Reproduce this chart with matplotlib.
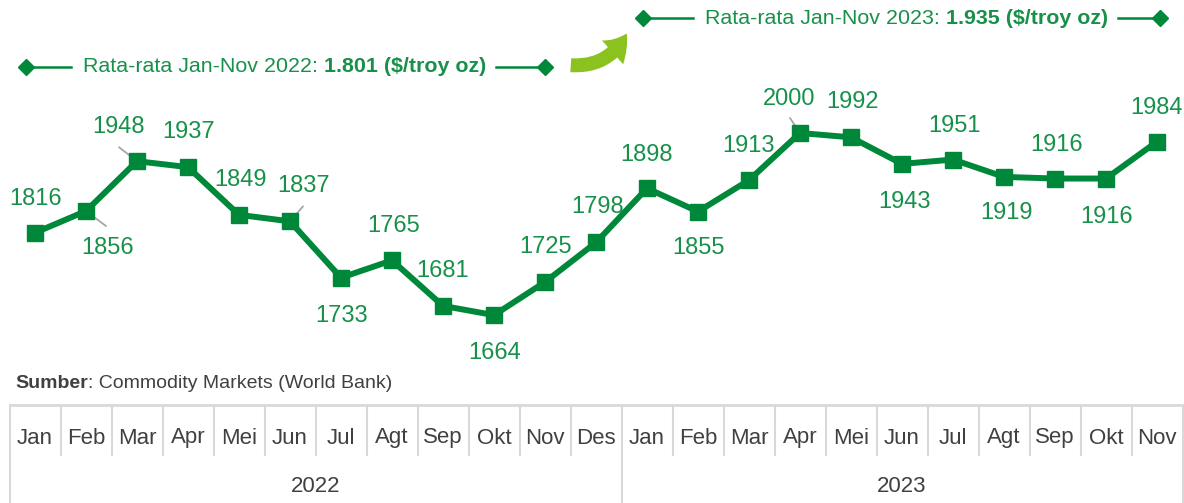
import matplotlib
matplotlib.use('Agg')
from matplotlib import pyplot as plt
from matplotlib import font_manager
from matplotlib.patches import FancyArrowPatch
import matplotlib.transforms as mtransforms

# Data
months = ['Jan', 'Feb', 'Mar', 'Apr', 'Mei', 'Jun', 'Jul', 'Agt', 'Sep', 'Okt', 'Nov', 'Des',
          'Jan', 'Feb', 'Mar', 'Apr', 'Mei', 'Jun', 'Jul', 'Agt', 'Sep', 'Okt', 'Nov']
years = ['2022', '2023']
year_counts = [12, 11]
prices = [1816, 1856, 1948, 1937, 1849, 1837, 1733, 1765, 1681, 1664, 1725, 1798,
          1898, 1855, 1913, 2000, 1992, 1943, 1951, 1919, 1916, 1916, 1984]
avg_2022 = '1.801'
avg_2023 = '1.935'
source = 'Commodity Markets (World Bank)'

# Label offsets (pixels) and leader lines
label_off = [(1, 34), (22, -37), (-18, 34), (1, 35), (2, 35), (14, 35), (1, -38), (2, 34),
             (0, 35), (1, -38), (1, 35), (2, 35), (0, 33), (0, -36), (0, 34), (-11, 34),
             (2, 35), (3, -38), (1, 34), (2, -36), (2, 34), (1, -38), (0, 34)]
leaders = {1: (20, -15), 2: (-18, 14), 5: (13, 15), 15: (-10, 15)}

names = {f.name for f in font_manager.fontManager.ttflist}
font = 'Liberation Sans Narrow' if 'Liberation Sans Narrow' in names else 'Liberation Sans'
plt.rcParams['font.family'] = [font, 'DejaVu Sans']

green = '#00883a'
text_green = '#17914a'
grey_text = '#404040'
grid_grey = '#d9d9d9'

W, H = 1184, 503
fig = plt.figure(figsize=(W / 100, H / 100), dpi=100)
ax = fig.add_axes([0, 0, 1, 1])
ax.set_xlim(-35 / 51, (W - 35) / 51)
ax.set_ylim(2000 - 370 / 0.542, 2000 + 133 / 0.542)
ax.axis('off')
renderer = fig.canvas.get_renderer()


def fy(py):
    return 1 - py / H


def fx(px):
    return px / W


def two_part(x0, y, a, b, size, color, bold_first=False):
    # regular + bold text glued together, starting at pixel x0
    w1 = 'bold' if bold_first else 'normal'
    w2 = 'normal' if bold_first else 'bold'
    t1 = fig.text(fx(x0), fy(y), a, ha='left', va='center', fontsize=size,
                  color=color, fontweight=w1)
    x1 = t1.get_window_extent(renderer).x1
    t2 = fig.text(x1 / W, fy(y), b, ha='left', va='center', fontsize=size,
                  color=color, fontweight=w2)
    return t2.get_window_extent(renderer).x1


x = list(range(len(prices)))
ax.plot(x, prices, color=green, linewidth=4.3, marker='s', markersize=11.5, zorder=3)

for i, v in enumerate(prices):
    dx, dy = label_off[i]
    ax.annotate(str(v), (i, v), xytext=(dx, dy), textcoords='offset pixels',
                ha='center', va='center', fontsize=17, color=text_green)
for i, (dx, dy) in leaders.items():
    ax.annotate('', (i, prices[i]), xytext=(dx, dy), textcoords='offset pixels',
                arrowprops=dict(arrowstyle='-', color='#a6a6a6', lw=1.3,
                                shrinkA=0, shrinkB=0), zorder=2)


# Average headers
def header(y, left, text_x, end_x, year, val):
    x_end = two_part(text_x, y, 'Rata-rata Jan-Nov %s: ' % year, '%s ($/troy oz)' % val,
                     15.4, text_green)
    for a, b in [(left, text_x - 12), (x_end + 10, end_x)]:
        fig.add_artist(plt.Line2D([fx(a), fx(b)], [fy(y), fy(y)], color=green, lw=1.8))
    fig.add_artist(plt.Line2D([fx(left), fx(end_x)], [fy(y), fy(y)], color=green,
                              lw=0, marker='D', markersize=8.5, markevery=[0, 1]))


header(67, 26, 83, 545, years[0], avg_2022)
header(18, 643, 705, 1160, years[1], avg_2023)

arrow = FancyArrowPatch((fx(568), fy(65)), (fx(628), fy(31)), transform=fig.transFigure,
                        arrowstyle='simple,head_width=23,head_length=17,tail_width=10',
                        connectionstyle='arc3,rad=0.35', color='#8cc21f', lw=0)
fig.add_artist(arrow)

# Source
two_part(15, 383, 'Sumber', ': ' + source, 14, grey_text, bold_first=True)

# Category table
trans = mtransforms.blended_transform_factory(ax.transData, ax.transAxes)
n = len(months)
ax.plot([-0.5, n - 0.5], [fy(405), fy(405)], color=grid_grey, lw=2, transform=trans,
        clip_on=False)
for k in range(n + 1):
    xb = k - 0.5
    full = k in (0, year_counts[0], n)
    ax.plot([xb, xb], [fy(405), fy(H) if full else fy(455)], color=grid_grey, lw=1.5,
            transform=trans, clip_on=False)
for i, m in enumerate(months):
    ax.text(i, fy(438), m, transform=trans, ha='center', va='center', fontsize=16,
            color=grey_text)
start = 0
for yr, cnt in zip(years, year_counts):
    ax.text(start + (cnt - 1) / 2, fy(487), yr, transform=trans, ha='center',
            va='center', fontsize=16, color=grey_text)
    start += cnt

fig.savefig('out.png', dpi=100)
